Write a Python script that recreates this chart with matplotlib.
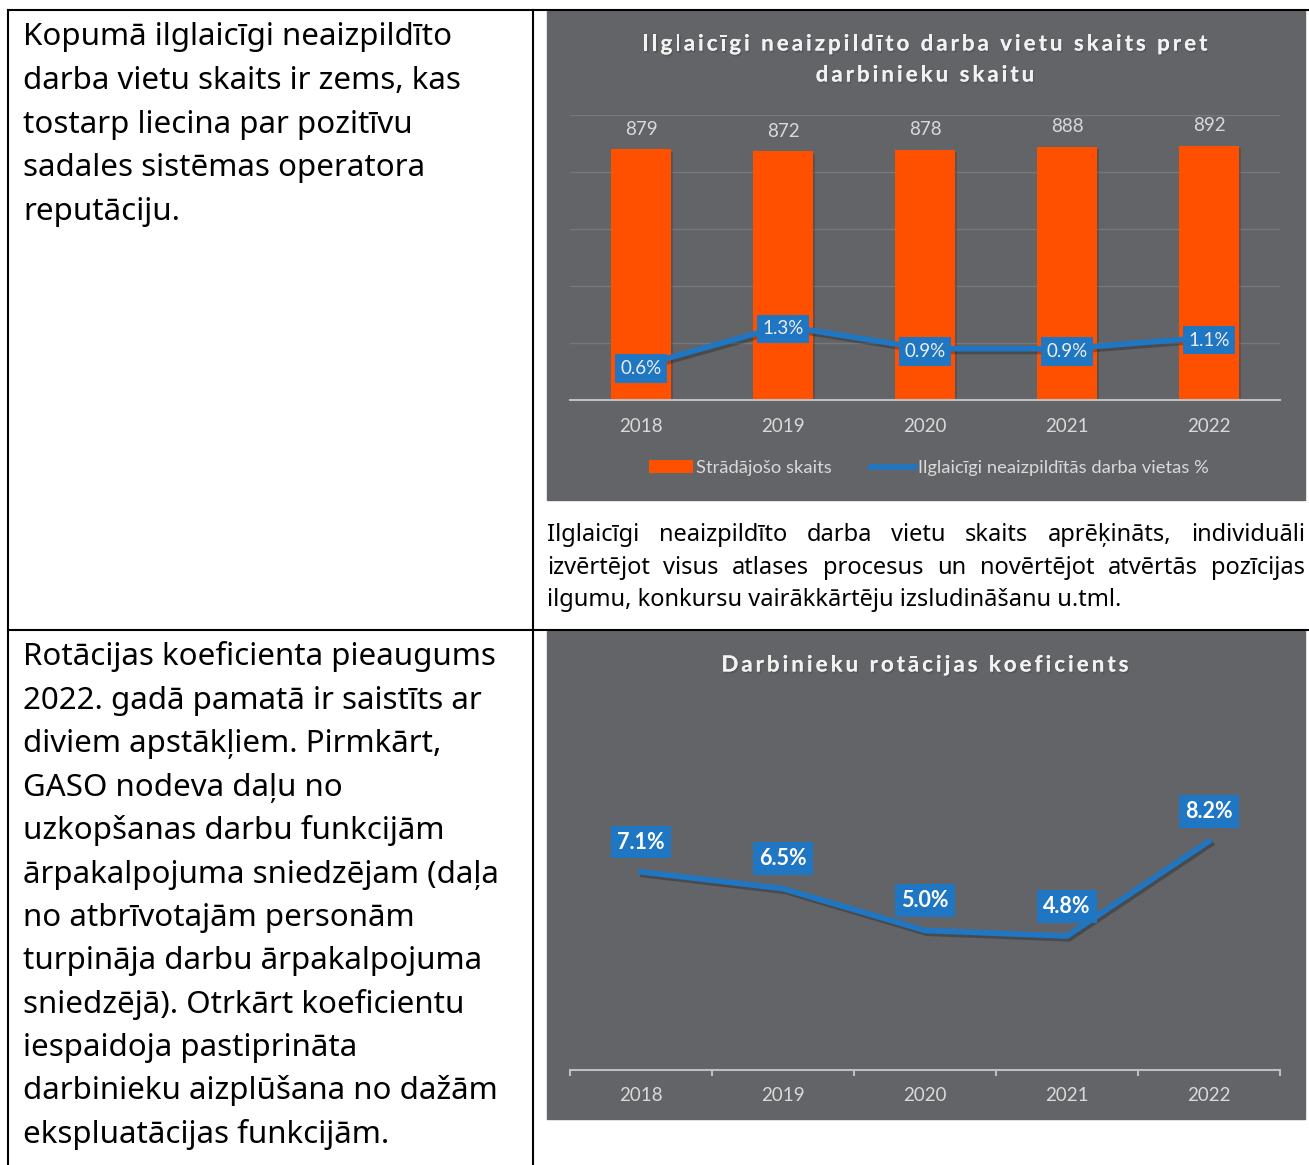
import matplotlib
matplotlib.use('Agg')
import matplotlib.pyplot as plt
import matplotlib.patheffects as pe
from matplotlib.patches import Rectangle, Patch
from matplotlib.lines import Line2D
from matplotlib.font_manager import FontProperties

# chart data
years = ['2018', '2019', '2020', '2021', '2022']
employees = [879, 872, 878, 888, 892]
vacancy_pct = [0.6, 1.3, 0.9, 0.9, 1.1]
rotation_pct = [7.1, 6.5, 5.0, 4.8, 8.2]

title_top = ['Ilglaicīgi neaizpildīto darba vietu skaits pret', 'darbinieku skaitu']
title_bottom = 'Darbinieku rotācijas koeficients'
legend_labels = ['Strādājošo skaits', 'Ilglaicīgi neaizpildītās darba vietas %']

# table text
text_top = ['Kopumā ilglaicīgi neaizpildīto',
            'darba vietu skaits ir zems, kas',
            'tostarp liecina par pozitīvu',
            'sadales sistēmas operatora',
            'reputāciju.']
text_bottom = ['Rotācijas koeficienta pieaugums',
               '2022. gadā pamatā ir saistīts ar',
               'diviem apstākļiem. Pirmkārt,',
               'GASO nodeva daļu no',
               'uzkopšanas darbu funkcijām',
               'ārpakalpojuma sniedzējam (daļa',
               'no atbrīvotajām personām',
               'turpināja darbu ārpakalpojuma',
               'sniedzējā). Otrkārt koeficientu',
               'iespaidoja pastiprināta',
               'darbinieku aizplūšana no dažām',
               'ekspluatācijas funkcijām.']
caption = ['Ilglaicīgi neaizpildīto darba vietu skaits aprēķināts, individuāli',
           'izvērtējot visus atlases procesus un novērtējot atvērtās pozīcijas',
           'ilgumu, konkursu vairākkārtēju izsludināšanu u.tml.']

ORANGE = '#FF5000'
BLUE = '#1F76C2'
PANEL = '#636468'
LIGHT = '#D9D9D9'
AXIS = '#BFBFBF'
CHART_FONT = ['Lato', 'DejaVu Sans']
DOC_FONT = ['Noto Sans', 'DejaVu Sans']

W, H = 1309, 1165
fig = plt.figure(figsize=(W / 100, H / 100), dpi=100)
renderer = fig.canvas.get_renderer()


def fx(px):
    return px / W


def fy(py):
    return 1 - py / H


def box(x0, y0, x1, y1):
    return [fx(x0), fy(y1), (x1 - x0) / W, (y1 - y0) / H]


def text_w(s, prop):
    return renderer.get_text_width_height_descent(s, prop, ismath=False)[0]


def tracked(xc, y, s, size, track):
    # excel style letter spaced title
    prop = FontProperties(family=CHART_FONT, weight='bold', size=size)
    base = text_w('HH', prop)
    adv = [text_w('H' + c + 'H', prop) - base for c in s]
    total = sum(adv) + track * (len(s) - 1)
    x = xc - total / 2
    for c, a in zip(s, adv):
        if c != ' ':
            fig.text(fx(x), fy(y), c, fontproperties=prop, color='#F2F2F2', va='baseline',
                     path_effects=[pe.withSimplePatchShadow(offset=(1, -1.5), alpha=0.45), pe.Normal()])
        x += a + track


def justified(lines, x0, x1, y0, step, size):
    prop = FontProperties(family=DOC_FONT, size=size)
    for i, line in enumerate(lines):
        y = fy(y0 + i * step)
        if i == len(lines) - 1:
            fig.text(fx(x0), y, line, fontproperties=prop, va='baseline')
            continue
        words = line.split()
        widths = [text_w(w, prop) for w in words]
        gap = (x1 - x0 - sum(widths)) / (len(words) - 1)
        x = x0
        for w, wd in zip(words, widths):
            fig.text(fx(x), y, w, fontproperties=prop, va='baseline')
            x += wd + gap


# table borders
for x0, y0, x1, y1 in [(8, 10, 1309, 10), (8, 630, 1309, 630), (8, 10, 8, 1165), (533, 10, 533, 1165)]:
    fig.add_artist(Line2D([fx(x0), fx(x1)], [fy(y0), fy(y1)], color='black', lw=1.5))

# chart panels
for y0, y1 in [(11, 500), (631, 1119)]:
    fig.add_artist(Rectangle((fx(547), fy(y1)), (1305 - 547) / W, (y1 - y0) / H,
                             transform=fig.transFigure, color=PANEL, zorder=-1))

for i, line in enumerate(text_top):
    fig.text(fx(23), fy(45.5 + i * 43.6), line, fontsize=22.5, family=DOC_FONT, va='baseline')
for i, line in enumerate(text_bottom):
    fig.text(fx(23), fy(665.5 + i * 43.4), line, fontsize=22.5, family=DOC_FONT, va='baseline')

justified(caption, 547, 1305, 541, 32.5, 17)

line_fx = [pe.SimpleLineShadow(offset=(1.5, -2), alpha=0.25), pe.Normal()]
x = list(range(len(years)))

# --- top chart: bars + percent line
tracked(925, 50.5, title_top[0], 16, 3.0)
tracked(925, 81.5, title_top[1], 16, 3.0)

ax1 = fig.add_axes(box(570, 115, 1280, 400))
ax1.set_facecolor('none')
bars = ax1.bar(x, employees, width=0.42, color=ORANGE, zorder=2,
               path_effects=[pe.withSimplePatchShadow(offset=(1.5, -1.5), alpha=0.25), pe.Normal()])
ax1.set_xlim(-0.5, 4.5)
ax1.set_ylim(0, 1000)
ax1.set_yticks([200, 400, 600, 800, 1000])
ax1.yaxis.grid(True, color='#77787C', lw=1)
ax1.set_axisbelow(True)
ax1.tick_params(axis='y', length=0, labelleft=False)
ax1.set_xticks(x, years)
ax1.tick_params(axis='x', length=0, pad=13, labelsize=13.5, labelcolor=LIGHT)
for lbl in ax1.get_xticklabels():
    lbl.set_family(CHART_FONT)
for s in ['top', 'right', 'left']:
    ax1.spines[s].set_visible(False)
ax1.spines['bottom'].set_color(AXIS)
ax1.spines['bottom'].set_linewidth(1.5)
for i, v in enumerate(employees):
    ax1.annotate(str(v), (i, v), xytext=(0, 14.5), textcoords='offset points', ha='center',
                 va='center', fontsize=13.5, color=LIGHT, family=CHART_FONT)

ax2 = ax1.twinx()
ax2.set_ylim(0, 5)
ax2.axis('off')
ax2.plot(x, vacancy_pct, color=BLUE, lw=4, zorder=3, path_effects=line_fx)
for i, v in enumerate(vacancy_pct):
    ax2.annotate(f'{v:.1f}%', (i, v), xytext=(0, -2), textcoords='offset points', ha='center',
                 va='center', fontsize=13.5, color='#EDEDED', family=CHART_FONT, zorder=4,
                 bbox=dict(boxstyle='square,pad=0.3', fc=BLUE, ec='none'))

fig.legend(handles=[Patch(fc=ORANGE), Line2D([], [], color=BLUE, lw=4)], labels=legend_labels,
           loc='center', bbox_to_anchor=(fx(929), fy(468)), ncol=2, frameon=False,
           prop=FontProperties(family=CHART_FONT, size=13.2), labelcolor=LIGHT,
           handlelength=2.4, handletextpad=0.2, columnspacing=2.1)

# --- bottom chart: rotation coefficient
tracked(925, 671.5, title_bottom, 16, 3.0)

ax3 = fig.add_axes(box(570, 791, 1280, 1070))
ax3.set_facecolor('none')
ax3.plot(x, rotation_pct, color=BLUE, lw=4, path_effects=line_fx)
ax3.set_xlim(-0.5, 4.5)
ax3.set_ylim(0, 10)
ax3.set_yticks([])
ax3.set_xticks(x, years)
ax3.set_xticks([i - 0.5 for i in range(len(years) + 1)], minor=True)
ax3.tick_params(axis='x', which='major', length=0, pad=12, labelsize=13.5, labelcolor=LIGHT)
ax3.tick_params(axis='x', which='minor', length=4, width=1.5, color=AXIS)
for lbl in ax3.get_xticklabels():
    lbl.set_family(CHART_FONT)
for s in ['top', 'right', 'left']:
    ax3.spines[s].set_visible(False)
ax3.spines['bottom'].set_color(AXIS)
ax3.spines['bottom'].set_linewidth(1.5)
for i, v in enumerate(rotation_pct):
    ax3.annotate(f'{v:.1f}%', (i, v), xytext=(0, 21.5), textcoords='offset points', ha='center',
                 va='center', fontsize=15.5, fontweight='bold', color='white', family=CHART_FONT,
                 bbox=dict(boxstyle='square,pad=0.27', fc=BLUE, ec='none'))

fig.savefig('out.png', dpi=100)
